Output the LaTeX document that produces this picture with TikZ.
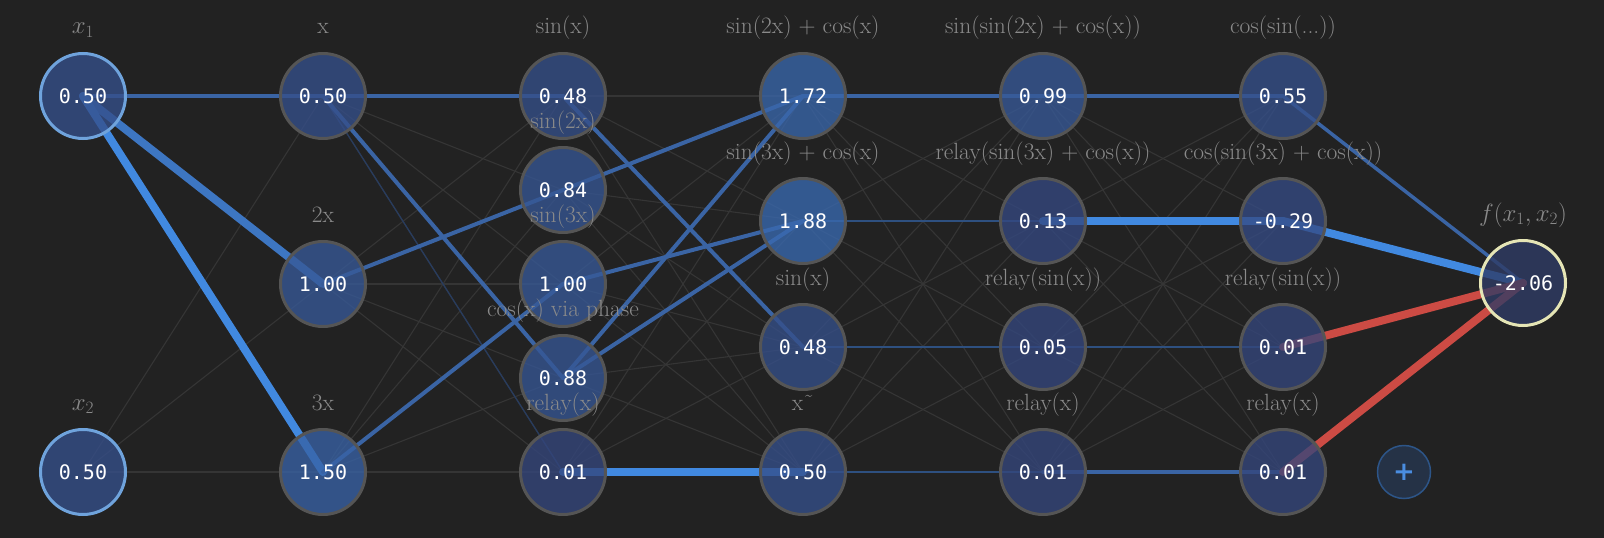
\documentclass[tikz,border=0pt]{standalone}
\usepackage{fontspec}
\newfontfamily\valfont{DejaVu Sans Mono}
\newfontfamily\plusfont{DejaVu Sans}
\pgfdeclarelayer{bglayer}
\pgfdeclarelayer{edgelayer}
\pgfsetlayers{bglayer,edgelayer,main}
\definecolor{bgc}{HTML}{222222}
\definecolor{nlow}{HTML}{34467C}
\definecolor{nhigh}{HTML}{3969AF}
\definecolor{nborder}{HTML}{555555}
\definecolor{inborder}{HTML}{6FA3DC}
\definecolor{outborder}{HTML}{E5E5B5}
\definecolor{outfill}{HTML}{2F3C66}
\definecolor{labc}{HTML}{8A8A8A}
\definecolor{faintc}{HTML}{353535}
\definecolor{fblue}{HTML}{283C5E}
\definecolor{tblue}{HTML}{2E5080}
\definecolor{mblue}{HTML}{3A64A4}
\definecolor{bblue}{HTML}{4189E0}
\definecolor{b2blue}{HTML}{3D76C2}
\definecolor{redc}{HTML}{CC4B44}
\definecolor{plusfill}{HTML}{253246}
\definecolor{plusborder}{HTML}{2D5588}
\definecolor{plusc}{HTML}{4A8DE0}
\tikzset{
  neuron/.style={circle, draw=nborder, line width=3pt, minimum size=85pt, inner sep=0pt,
    fill opacity=0.78, text opacity=1, text=white, font=\valfont\fontsize{20}{23}\selectfont},
  inneuron/.style={neuron, draw=inborder},
  outneuron/.style={neuron, draw=outborder, fill=outfill},
  lab/.style={text=labc, anchor=base, inner sep=0pt, font=\fontsize{23.5}{27}\selectfont},
  faint/.style={draw=faintc, line width=1.1pt},
  fb/.style={draw=fblue, line width=1.3pt},
  tb/.style={draw=tblue, line width=1.6pt},
  mid/.style={draw=mblue, line width=4pt, line cap=round},
  midt/.style={draw=mblue, line width=3.5pt, line cap=round},
  big/.style={draw=bblue, line width=8pt, line cap=round},
  bigdark/.style={draw=b2blue, line width=8pt, line cap=round},
  redline/.style={draw=redc, line width=8pt, line cap=round},
  plusbtn/.style={circle, draw=plusborder, line width=1.5pt, fill=plusfill, minimum size=53pt,
    inner sep=0pt, text=plusc, font=\plusfont\bfseries\fontsize{26}{26}\selectfont}
}
\begin{document}
\begin{tikzpicture}[x=1pt,y=-1pt]
\useasboundingbox (0,0) rectangle (1604,538);
\begin{pgfonlayer}{bglayer}
\fill[bgc] (0,0) rectangle (1604,538);
\end{pgfonlayer}
% nodes
\node[inneuron, fill=nhigh!27!nlow] (a1) at (83,96) {0.50};
\node[inneuron, fill=nhigh!27!nlow] (a2) at (83,472) {0.50};
\node[neuron, fill=nhigh!27!nlow] (b1) at (323,96) {0.50};
\node[neuron, fill=nhigh!53!nlow] (b2) at (323,284) {1.00};
\node[neuron, fill=nhigh!80!nlow] (b3) at (323,472) {1.50};
\node[neuron, fill=nhigh!26!nlow] (c1) at (563,96) {0.48};
\node[neuron, fill=nhigh!45!nlow] (c2) at (563,190) {0.84};
\node[neuron, fill=nhigh!53!nlow] (c3) at (563,284) {1.00};
\node[neuron, fill=nhigh!47!nlow] (c4) at (563,378) {0.88};
\node[neuron, fill=nhigh!0!nlow] (c5) at (563,472) {0.01};
\node[neuron, fill=nhigh!91!nlow] (d1) at (803,96) {1.72};
\node[neuron, fill=nhigh!100!nlow] (d2) at (803,221) {1.88};
\node[neuron, fill=nhigh!26!nlow] (d3) at (803,347) {0.48};
\node[neuron, fill=nhigh!27!nlow] (d4) at (803,472) {0.50};
\node[neuron, fill=nhigh!53!nlow] (e1) at (1043,96) {0.99};
\node[neuron, fill=nhigh!7!nlow] (e2) at (1043,221) {0.13};
\node[neuron, fill=nhigh!3!nlow] (e3) at (1043,347) {0.05};
\node[neuron, fill=nhigh!0!nlow] (e4) at (1043,472) {0.01};
\node[neuron, fill=nhigh!29!nlow] (f1) at (1283,96) {0.55};
\node[neuron, fill=nhigh!15!nlow] (f2) at (1283,221) {-0.29};
\node[neuron, fill=nhigh!0!nlow] (f3) at (1283,347) {0.01};
\node[neuron, fill=nhigh!0!nlow] (f4) at (1283,472) {0.01};
\node[outneuron] (out) at (1523,283) {-2.06};
\node[plusbtn] (plus) at (1404,472) {+};
% labels
\node[lab] (la1) at (83,34) {$x_1$};
\node[lab] (la2) at (83,410) {$x_2$};
\node[lab] (lb1) at (323,34) {x};
\node[lab] (lb2) at (323,222) {2x};
\node[lab] (lb3) at (323,410) {3x};
\node[lab] (lc1) at (563,34) {sin(x)};
\node[lab] (lc2) at (563,128) {sin(2x)};
\node[lab] (lc3) at (563,222) {sin(3x)};
\node[lab] (lc4) at (563,316) {cos(x) via phase};
\node[lab] (lc5) at (563,410) {relay(x)};
\node[lab] (ld1) at (803,34) {sin(2x) + cos(x)};
\node[lab] (ld2) at (803,159) {sin(3x) + cos(x)};
\node[lab] (ld3) at (803,285) {sin(x)};
\node[lab] (ld4) at (803,410) {x\char"02DC};
\node[lab] (le1) at (1043,34) {sin(sin(2x) + cos(x))};
\node[lab] (le2) at (1043,159) {relay(sin(3x) + cos(x))};
\node[lab] (le3) at (1043,285) {relay(sin(x))};
\node[lab] (le4) at (1043,410) {relay(x)};
\node[lab] (lf1) at (1283,34) {cos(sin(...))};
\node[lab] (lf2) at (1283,159) {cos(sin(3x) + cos(x))};
\node[lab] (lf3) at (1283,285) {relay(sin(x))};
\node[lab] (lf4) at (1283,410) {relay(x)};
\node[lab] (lout) at (1523,221) {$f(x_1, x_2)$};
% edges
\begin{pgfonlayer}{edgelayer}
\foreach \s in {a1,a2}{\foreach \t in {b1,b2,b3}{\draw[faint] (\s.center) -- (\t.center);}}
\foreach \s in {b1,b2,b3}{\foreach \t in {c1,c2,c3,c4,c5}{\draw[faint] (\s.center) -- (\t.center);}}
\foreach \s in {c1,c2,c3,c4,c5}{\foreach \t in {d1,d2,d3,d4}{\draw[faint] (\s.center) -- (\t.center);}}
\foreach \s in {d1,d2,d3,d4}{\foreach \t in {e1,e2,e3,e4}{\draw[faint] (\s.center) -- (\t.center);}}
\foreach \s in {e1,e2,e3,e4}{\foreach \t in {f1,f2,f3,f4}{\draw[faint] (\s.center) -- (\t.center);}}
\draw[fb] (b1.center) -- (c5.center);
\draw[tb] (d2.center) -- (e2.center);
\draw[tb] (d3.center) -- (e3.center);
\draw[tb] (d4.center) -- (e4.center);
\draw[tb] (e3.center) -- (f3.center);
\draw[mid] (a1.center) -- (b1.center);
\draw[bigdark] (a1.center) -- (b2.center);
\draw[big] (a1.center) -- (b3.center);
\draw[mid] (b1.center) -- (c1.center);
\draw[mid] (b1.center) -- (c4.center);
\draw[mid] (b2.center) -- (c2.center);
\draw[mid] (b3.center) -- (c3.center);
\draw[mid] (c2.center) -- (d1.center);
\draw[mid] (c4.center) -- (d1.center);
\draw[mid] (c3.center) -- (d2.center);
\draw[mid] (c4.center) -- (d2.center);
\draw[mid] (c1.center) -- (d3.center);
\draw[big] (c5.center) -- (d4.center);
\draw[mid] (d1.center) -- (e1.center);
\draw[mid] (e1.center) -- (f1.center);
\draw[big] (e2.center) -- (f2.center);
\draw[mid] (e4.center) -- (f4.center);
\draw[midt] (f1.center) -- (out.center);
\draw[big] (f2.center) -- (out.center);
\draw[redline] (f3.center) -- (out.center);
\draw[redline] (f4.center) -- (out.center);
\end{pgfonlayer}
\end{tikzpicture}
\end{document}
